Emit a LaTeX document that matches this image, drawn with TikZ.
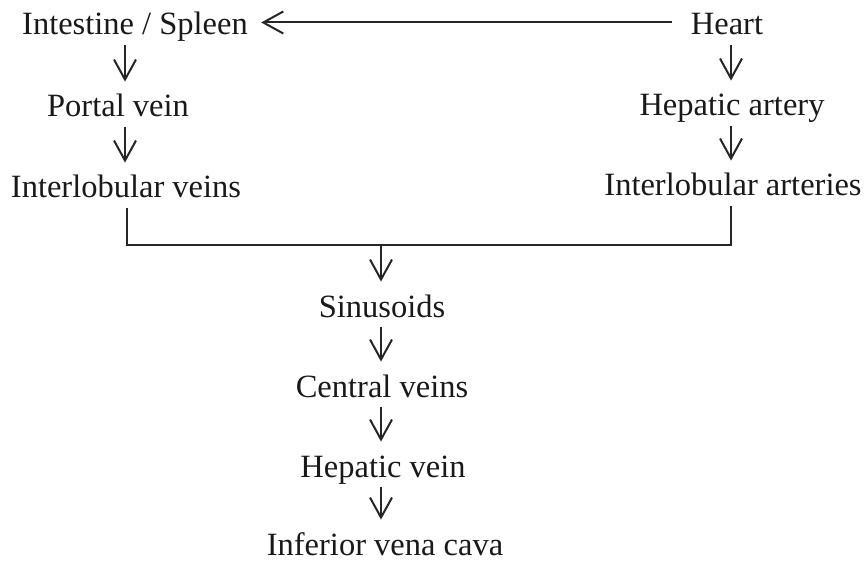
\documentclass[tikz,border=0pt]{standalone}
\usepackage{fontspec}
\setmainfont{Liberation Serif}
\usetikzlibrary{arrows.meta}
\begin{document}
\begin{tikzpicture}[x=0.5pt,y=-0.5pt,
  lbl/.style={anchor=base, inner sep=0pt, text height=17.5pt, text depth=5pt,
    font=\fontsize{16.25pt}{19pt}\selectfont, text=black!90},
  arr/.style={line width=1pt, draw=black!85, -{Straight Barb[length=10pt,width=11pt,line width=1pt]}},
  ln/.style={line width=1pt, draw=black!85}]
\useasboundingbox (0,0) rectangle (867,561);
% column coordinates
\coordinate (colL) at (125,0);
\coordinate (colR) at (731,0);
\coordinate (colC) at (381,0);
% nodes
\node[lbl] (int) at (135,35) {Intestine / Spleen};
\node[lbl] (heart) at (727,35) {Heart};
\node[lbl] (portal) at (118,117) {Portal vein};
\node[lbl] (hepart) at (732,116) {Hepatic artery};
\node[lbl] (ilv) at (126,198) {Interlobular veins};
\node[lbl] (ila) at (733,196) {Interlobular arteries};
\node[lbl] (sin) at (382,317) {Sinusoids};
\node[lbl] (cen) at (382,397) {Central veins};
\node[lbl] (hv) at (383,477) {Hepatic vein};
\node[lbl, text depth=1pt] (ivc) at (385,555) {Inferior vena cava};
% bracket coordinates
\coordinate (bl) at (127,245);
\coordinate (br) at (731,245);
\coordinate (bm) at (381,245);
% connectors
\draw[arr, shorten <=9.5pt, shorten >=6.5pt] (heart.west) -- (int.east |- heart.west);
\draw[arr] (int.south -| colL) -- (portal.north -| colL);
\draw[arr] (portal.south -| colL) -- (ilv.north -| colL);
\draw[arr] (heart.south -| colR) -- (hepart.north -| colR);
\draw[arr] (hepart.south -| colR) -- (ila.north -| colR);
\draw[ln] (ilv.south -| bl) -- (bl) -- (br) -- (ila.south -| br);
\draw[arr] (bm) -- (sin.north -| bm);
\draw[arr] (sin.south -| colC) -- (cen.north -| colC);
\draw[arr] (cen.south -| colC) -- (hv.north -| colC);
\draw[arr] (hv.south -| colC) -- (ivc.north -| colC);
\end{tikzpicture}
\end{document}
